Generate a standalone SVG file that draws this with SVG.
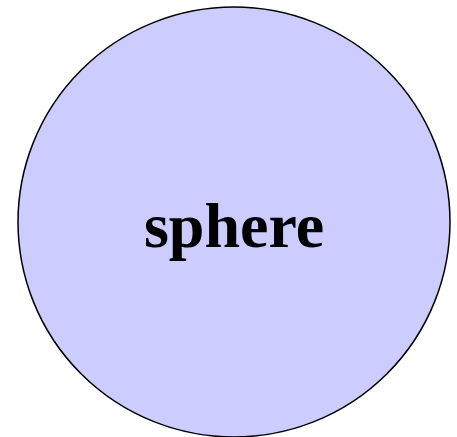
<svg xmlns="http://www.w3.org/2000/svg" width="457" height="437" viewBox="0 0 457 437">
<style>
.node{fill:#ccccff;stroke:#000;stroke-width:1.5}
.lbl{font-family:"Liberation Serif",serif;font-weight:bold;font-size:64px;fill:#000;text-anchor:middle}
</style>
<rect width="457" height="437" fill="#fff"/>
<g id="connectors"></g>
<g id="sphere">
<ellipse class="node" cx="234" cy="222" rx="216" ry="215"/>
<text class="lbl" x="234" y="247">sphere</text>
</g>
</svg>
